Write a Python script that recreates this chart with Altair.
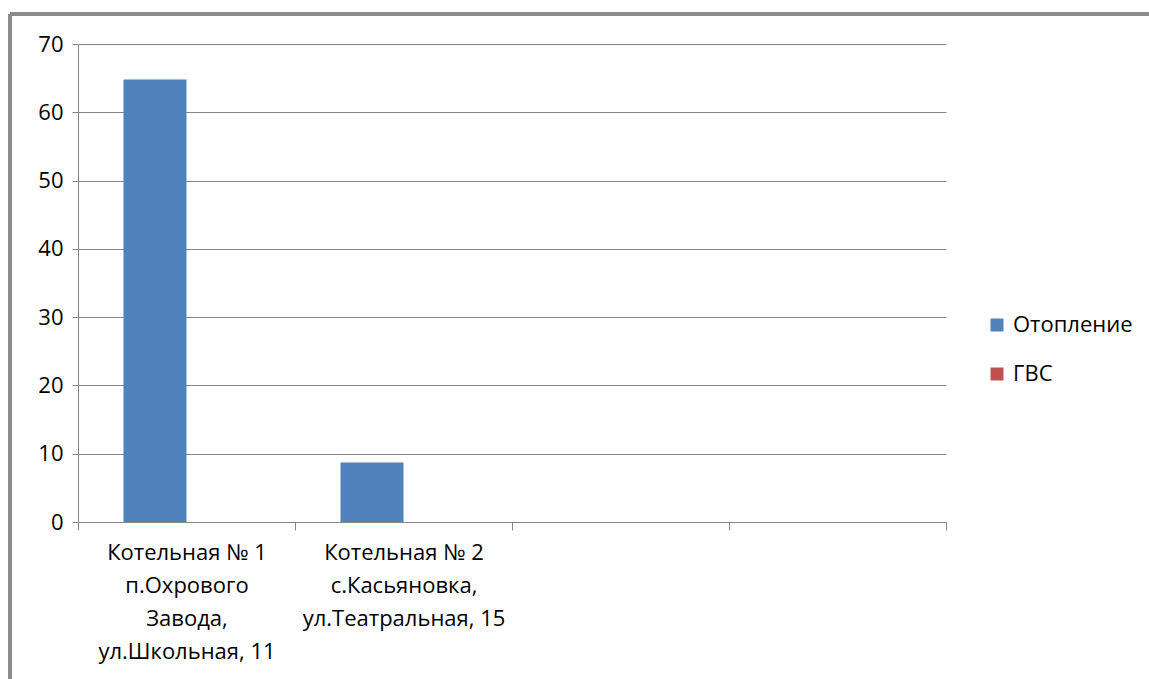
import altair as alt
import pandas as pd

categories = [
    "Котельная № 1\nп.Охрового\nЗавода,\nул.Школьная, 11",
    "Котельная № 2\nс.Касьяновка,\nул.Театральная, 15",
    " ",
    "  ",
]
series = ["Отопление", "ГВС"]
heating = [64.8, 8.7, None, None]
hot_water = [0, 0, None, None]
y_ticks = [0, 10, 20, 30, 40, 50, 60, 70]

rows = []
for c, h, w in zip(categories, heating, hot_water):
    rows.append({"cat": c, "series": series[0], "value": h})
    rows.append({"cat": c, "series": series[1], "value": w})
df = pd.DataFrame(rows)

FONT = "Open Sans"
GRAY = "#868686"
FS = 22

bars = alt.Chart(df).mark_bar().encode(
    x=alt.X(
        "cat:N",
        sort=categories,
        title=None,
        scale=alt.Scale(paddingInner=0, paddingOuter=0),
        axis=alt.Axis(
            labelAngle=0,
            labelExpr="split(datum.label, '\\n')",
            labelFont=FONT,
            labelFontSize=FS,
            labelColor="#000000",
            labelLineHeight=33,
            labelPadding=12,
            labelAlign="center",
            labelBaseline="top",
            labelLimit=400,
            labelOverlap=False,
            tickBand="extent",
            tickSize=8,
            tickColor=GRAY,
            domainColor=GRAY,
            grid=False,
        ),
    ),
    xOffset=alt.XOffset(
        "series:N",
        sort=series,
        scale=alt.Scale(paddingInner=0, paddingOuter=0.722),
    ),
    y=alt.Y(
        "value:Q",
        title=None,
        scale=alt.Scale(domain=[0, 70], nice=False),
        axis=alt.Axis(
            values=y_ticks,
            labelFont=FONT,
            labelFontSize=FS,
            labelColor="#000000",
            labelPadding=9,
            tickSize=6,
            tickColor=GRAY,
            domainColor=GRAY,
            gridColor=GRAY,
            gridOpacity=1,
        ),
    ),
    color=alt.Color(
        "series:N",
        sort=series,
        scale=alt.Scale(domain=series, range=["#4F81BD", "#C0504D"]),
        legend=alt.Legend(
            title=None,
            orient="none",
            legendX=908,
            legendY=270,
            symbolType="square",
            symbolSize=169,
            symbolStrokeWidth=0,
            labelFont=FONT,
            labelFontSize=FS,
            labelColor="#000000",
            labelOffset=5,
            labelLimit=300,
            rowPadding=27,
        ),
    ),
)

border_top = alt.Chart(df).mark_rule(color="#8C8C8C", strokeWidth=3).encode(
    x=alt.value(-68), x2=alt.value(1100), y=alt.value(-30)
)
border_left = alt.Chart(df).mark_rule(color="#8C8C8C", strokeWidth=3).encode(
    x=alt.value(-68), y=alt.value(-30), y2=alt.value(700)
)

chart = alt.layer(bars, border_top, border_left).properties(
    width=868,
    height=478,
    padding={"left": 78, "top": 44, "right": 203, "bottom": 157},
    autosize=alt.AutoSizeParams(type="none"),
    background="white",
).configure_view(stroke=None)

chart.save("out.html", embed_options={"renderer": "svg", "actions": False})
